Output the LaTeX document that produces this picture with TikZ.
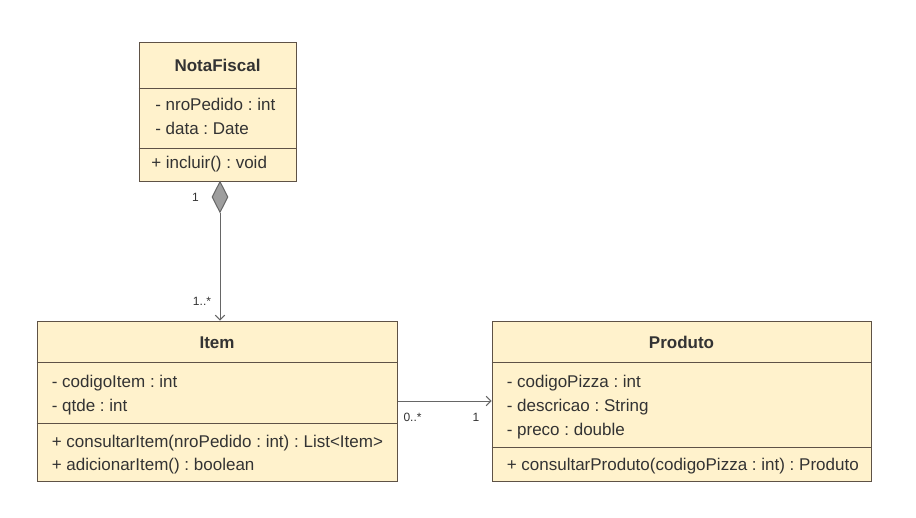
\documentclass[tikz,border=0pt]{standalone}
\usepackage{fontspec}
\setmainfont{Liberation Sans}
\usetikzlibrary{arrows.meta,shapes.geometric}
\definecolor{classfill}{HTML}{FFF2CC}
\definecolor{classline}{HTML}{5E5246}
\definecolor{txt}{HTML}{333333}
\definecolor{linkcol}{HTML}{666666}
\frenchspacing

\begin{document}
\begin{tikzpicture}[x=0.75pt,y=-0.75pt,>={Straight Barb[length=3.5pt,width=7pt]},font=\fontsize{12.75}{15}\selectfont]
  \tikzset{class/.style={draw=classline,fill=classfill,line width=0.75pt,inner sep=0pt},
    sep/.style={draw=classline,line width=0.75pt},
    title/.style={text=txt,anchor=base,inner sep=0pt,font=\fontsize{12.75}{15}\selectfont\bfseries},
    member/.style={text=txt,anchor=base west,inner sep=0pt},
    mult/.style={text=txt,anchor=base,inner sep=0pt,font=\fontsize{9}{10}\selectfont},
    link/.style={draw=linkcol,line width=0.75pt}}
  \useasboundingbox[fill=white] (0,0) rectangle (916,517);
  % classes
  \node[class,minimum width=157*.75pt,minimum height=138*.75pt] (nf) at (217.5,112) {};
  \node[class,minimum width=360*.75pt,minimum height=160*.75pt] (item) at (217,401) {};
  \node[class,minimum width=379*.75pt,minimum height=160*.75pt] (prod) at (681.5,401) {};
  \draw[sep] (nf.west |- 0,88) -- (nf.east |- 0,88);
  \draw[sep] (nf.west |- 0,148) -- (nf.east |- 0,148);
  \draw[sep] (item.west |- 0,362) -- (item.east |- 0,362);
  \draw[sep] (item.west |- 0,423) -- (item.east |- 0,423);
  \draw[sep] (prod.west |- 0,362) -- (prod.east |- 0,362);
  \draw[sep] (prod.west |- 0,447) -- (prod.east |- 0,447);
  \node[title] (nfName) at (217.5,71) {NotaFiscal};
  \node[member] (nf1) at (155,110.5) {- nroPedido : int};
  \node[member] (nf2) at (155,134.5) {- data : Date};
  \node[member] (nf3) at (151,168.5) {+ incluir() : void};
  \node[title] (itemName) at (217,348) {Item};
  \node[member] (item1) at (51.5,387) {- codigoItem : int};
  \node[member] (item2) at (51.5,411) {- qtde : int};
  \node[member] (item3) at (51.5,447) {+ consultarItem(nroPedido : int) : List<Item>};
  \node[member] (item4) at (51.5,470.5) {+ adicionarItem() : boolean};
  \node[title] (prodName) at (681.5,348) {Produto};
  \node[member] (prod1) at (506.5,387) {- codigoPizza : int};
  \node[member] (prod2) at (506.5,411) {- descricao : String};
  \node[member] (prod3) at (506.5,435) {- preco : double};
  \node[member] (prod4) at (506.5,470.5) {+ consultarProduto(codigoPizza : int) : Produto};
  % composition and association
  \node[diamond,draw=linkcol,fill=black!38,line width=0.75pt,inner sep=0pt,minimum width=16*.75pt,minimum height=31*.75pt,anchor=north] (dm) at (220,181) {};
  \draw[link,->] (dm.south) -- (dm.south |- item.north);
  \draw[link,->] (item.east) -- (prod.west);
  \node[mult] (m1) at ([shift={(-24.5,20)}]dm.north) {1};
  \node[mult] (m2) at ([shift={(-18,-15)}]dm.south |- item.north) {1..*};
  \node[mult] (m3) at ([shift={(15,20.5)}]item.east) {0..*};
  \node[mult] (m4) at ([shift={(-15.5,20.5)}]prod.west) {1};
\end{tikzpicture}
\end{document}
